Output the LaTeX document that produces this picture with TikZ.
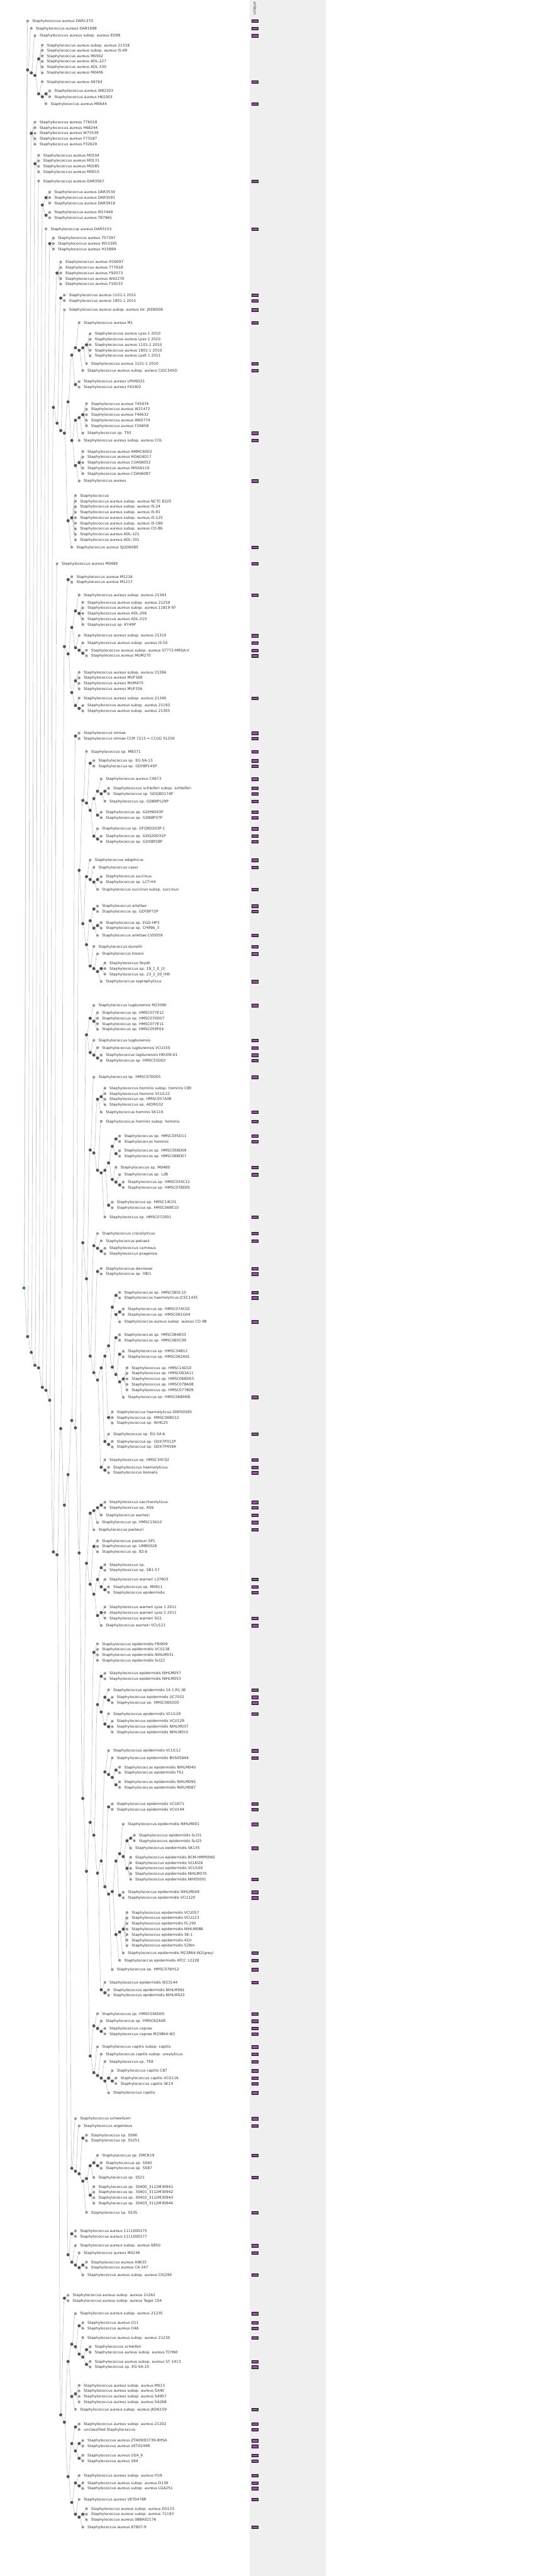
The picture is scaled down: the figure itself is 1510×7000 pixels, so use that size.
\documentclass[tikz,border=0pt]{standalone}
\usepackage{fontspec}
\usepackage{etoolbox}
\setmainfont{DejaVu Sans}

\definecolor{cladegrey}{HTML}{555555}
\definecolor{tipgrey}{HTML}{999999}
\definecolor{branchgrey}{HTML}{C6C6C6}
\definecolor{labelgrey}{HTML}{333333}
\definecolor{uniquepurple}{HTML}{9A4FA4}
\definecolor{rootblue}{HTML}{3A7BAA}
\definecolor{panelgrey}{HTML}{EFEFEF}

\pgfdeclarelayer{background}
\pgfsetlayers{background,main}

\tikzset{
    clade/.style={circle, fill=cladegrey, inner sep=0pt, minimum size=8.5pt},
    tipdot/.style={circle, fill=tipgrey, inner sep=0pt, minimum size=7.5pt},
    branch/.style={draw=branchgrey, line width=1.2pt},
    taxon/.style={anchor=west, inner sep=0pt, text height=7.3pt, text depth=0pt,
                  text=labelgrey, font=\fontsize{10}{12}\selectfont},
    uniquebox/.style={draw=black, fill=uniquepurple, line width=0.6pt,
                      minimum width=16.5pt, minimum height=7.5pt, inner sep=0pt}
}

% branches are collected here and drawn behind the dots at the end
\newcommand{\branchlist}{}
% inner node: name, parent, depth, y
\newcommand{\addclade}[4]{%
    \node[clade] (#1) at ({65+10*#3},#4) {};
    \gappto\branchlist{\draw[branch] (#2.center) .. controls +(5,0) and +(-5,0) .. (#1.center);}}
% leaf: parent, depth, y, label
\newcommand{\addtaxon}[4]{%
    \node[tipdot] (t#3) at ({65+10*#2},#3) {};
    \node[taxon] (t#3_name) at ([xshift=12.5pt]t#3.center) {#4};
    \gappto\branchlist{\draw[branch] (#1.center) .. controls +(5,0) and +(-5,0) .. (t#3.center);}}
% leaf with a mark in the unique column
\newcommand{\addunique}[4]{%
    \addtaxon{#1}{#2}{#3}{#4}%
    \node[uniquebox] (u#3) at (692,#3) {};}

\begin{document}
\begin{tikzpicture}[x=1pt, y=-1pt]
    \useasboundingbox (0,0) rectangle (1510,7000);
    \node[rotate=90, anchor=base west, inner sep=0pt, text=labelgrey,
          font=\fontsize{10}{12}\selectfont] (unique_head) at (695,40) {unique};

    % root
    \node[clade, fill=rootblue] (root) at (65,3500) {};

    % first clades
    \addunique{root}{1}{57}{Staphylococcus aureus DAR1370}
    \addclade{n1_190}{root}{1}{190}
    \addunique{n1_190}{2}{77}{Staphylococcus aureus DAR1698}
    \addclade{n2_198}{n1_190}{2}{198}
    \addunique{n2_198}{3}{97}{Staphylococcus aureus subsp. aureus ED98}
    \addclade{n3_205}{n2_198}{3}{205}
    \addclade{n4_160}{n3_205}{4}{160}
    \addtaxon{n4_160}{5}{123}{Staphylococcus aureus subsp. aureus 21318}
    \addtaxon{n4_160}{5}{137}{Staphylococcus aureus subsp. aureus IS-99}
    \addtaxon{n4_160}{5}{152}{Staphylococcus aureus M0562}
    \addtaxon{n4_160}{5}{167}{Staphylococcus aureus ADL-227}
    \addtaxon{n4_160}{5}{182}{Staphylococcus aureus ADL-330}
    \addtaxon{n4_160}{5}{198}{Staphylococcus aureus M0406}
    \addclade{n4_255}{n3_205}{4}{255}
    \addunique{n4_255}{5}{222}{Staphylococcus aureus A9763}
    \addclade{n5_263}{n4_255}{5}{263}
    \addclade{n6_255}{n5_263}{6}{255}
    \addtaxon{n6_255}{7}{247}{Staphylococcus aureus W82303}
    \addtaxon{n6_255}{7}{263}{Staphylococcus aureus H61003}
    \addunique{n5_263}{6}{282}{Staphylococcus aureus M0644}

    % backbone
    \addclade{n1_3632}{root}{1}{3632}
    \addclade{n2_362}{n1_3632}{2}{362}
    \addtaxon{n2_362}{3}{332}{Staphylococcus aureus T76018}
    \addtaxon{n2_362}{3}{347}{Staphylococcus aureus H68244}
    \addtaxon{n2_362}{3}{362}{Staphylococcus aureus W75539}
    \addtaxon{n2_362}{3}{377}{Staphylococcus aureus F73187}
    \addtaxon{n2_362}{3}{392}{Staphylococcus aureus F32629}
    \addclade{n2_3675}{n1_3632}{2}{3675}
    \addclade{n3_445}{n2_3675}{3}{445}
    \addtaxon{n3_445}{4}{422}{Staphylococcus aureus M0104}
    \addtaxon{n3_445}{4}{437}{Staphylococcus aureus M0131}
    \addtaxon{n3_445}{4}{452}{Staphylococcus aureus M0285}
    \addtaxon{n3_445}{4}{467}{Staphylococcus aureus M0015}
    \addclade{n3_3710}{n2_3675}{3}{3710}
    \addunique{n3_3710}{4}{492}{Staphylococcus aureus DAR3567}
    \addclade{n4_3717}{n3_3710}{4}{3717}
    \addclade{n5_557}{n4_3717}{5}{557}
    \addclade{n6_537}{n5_557}{6}{537}
    \addtaxon{n6_537}{7}{522}{Staphylococcus aureus DAR3534}
    \addtaxon{n6_537}{7}{537}{Staphylococcus aureus DAR3591}
    \addtaxon{n6_537}{7}{552}{Staphylococcus aureus DAR3918}
    \addclade{n6_585}{n5_557}{6}{585}
    \addtaxon{n6_585}{7}{577}{Staphylococcus aureus M27449}
    \addtaxon{n6_585}{7}{592}{Staphylococcus aureus T87965}
    \addclade{n5_3770}{n4_3717}{5}{3770}
    \addunique{n5_3770}{6}{622}{Staphylococcus aureus DAR3153}
    \addclade{n6_3778}{n5_3770}{6}{3778}
    \addclade{n7_662}{n6_3778}{7}{662}
    \addtaxon{n7_662}{8}{647}{Staphylococcus aureus T57397}
    \addtaxon{n7_662}{8}{662}{Staphylococcus aureus W53395}
    \addtaxon{n7_662}{8}{677}{Staphylococcus aureus H15899}
    \addclade{n7_3805}{n6_3778}{7}{3805}

    % aureus clade
    \addclade{n8_1107}{n7_3805}{8}{1107}
    \addclade{n9_742}{n8_1107}{9}{742}
    \addtaxon{n9_742}{10}{712}{Staphylococcus aureus H16097}
    \addtaxon{n9_742}{10}{727}{Staphylococcus aureus T77618}
    \addtaxon{n9_742}{10}{742}{Staphylococcus aureus F92073}
    \addtaxon{n9_742}{10}{757}{Staphylococcus aureus W42270}
    \addtaxon{n9_742}{10}{772}{Staphylococcus aureus F16533}
    \addclade{n9_1150}{n8_1107}{9}{1150}
    \addclade{n10_810}{n9_1150}{10}{810}
    \addunique{n10_810}{11}{802}{Staphylococcus aureus 1101-1 2011}
    \addunique{n10_810}{11}{817}{Staphylococcus aureus 1801-1 2011}
    \addclade{n10_1170}{n9_1150}{10}{1170}
    \addunique{n10_1170}{11}{842}{Staphylococcus aureus subsp. aureus str. JKD6008}
    \addclade{n11_1177}{n10_1170}{11}{1177}
    \addclade{n12_1092}{n11_1177}{12}{1092}
    \addclade{n13_965}{n12_1092}{13}{965}
    \addclade{n14_945}{n13_965}{14}{945}
    \addunique{n14_945}{15}{877}{Staphylococcus aureus M1}
    \addclade{n15_952}{n14_945}{15}{952}
    \addclade{n16_945}{n15_952}{16}{945}
    \addclade{n17_937}{n16_945}{17}{937}
    \addtaxon{n17_937}{18}{907}{Staphylococcus aureus Lyso 1 2010}
    \addtaxon{n17_937}{18}{922}{Staphylococcus aureus Lyso 2 2010}
    \addtaxon{n17_937}{18}{937}{Staphylococcus aureus 1101-2 2010}
    \addtaxon{n17_937}{18}{952}{Staphylococcus aureus 1801-1 2010}
    \addtaxon{n17_937}{18}{967}{Staphylococcus aureus LysK 1 2011}
    \addunique{n16_945}{17}{988}{Staphylococcus aureus 1101-1 2010}
    \addunique{n15_952}{16}{1007}{Staphylococcus aureus subsp. aureus CIGC345D}
    \addclade{n14_1045}{n13_965}{14}{1045}
    \addtaxon{n14_1045}{15}{1037}{Staphylococcus aureus LPIH6021}
    \addtaxon{n14_1045}{15}{1052}{Staphylococcus aureus F41902}
    \addclade{n13_1197}{n12_1092}{13}{1197}
    \addclade{n14_1142}{n13_1197}{14}{1142}
    \addclade{n15_1135}{n14_1142}{15}{1135}
    \addclade{n16_1127}{n15_1135}{16}{1127}
    \addtaxon{n16_1127}{17}{1097}{Staphylococcus aureus T45974}
    \addtaxon{n16_1127}{17}{1112}{Staphylococcus aureus W21472}
    \addtaxon{n16_1127}{17}{1127}{Staphylococcus aureus F46632}
    \addtaxon{n16_1127}{17}{1142}{Staphylococcus aureus W60774}
    \addtaxon{n16_1127}{17}{1157}{Staphylococcus aureus F26858}
    \addunique{n15_1135}{16}{1177}{Staphylococcus sp. T93}
    \addunique{n14_1142}{15}{1197}{Staphylococcus aureus subsp. aureus COL}
    \addclade{n14_1265}{n13_1197}{14}{1265}
    \addclade{n15_1257}{n14_1265}{15}{1257}
    \addtaxon{n15_1257}{16}{1227}{Staphylococcus aureus AMMC6003}
    \addtaxon{n15_1257}{16}{1242}{Staphylococcus aureus HOAG6017}
    \addtaxon{n15_1257}{16}{1257}{Staphylococcus aureus COAS6052}
    \addtaxon{n15_1257}{16}{1272}{Staphylococcus aureus MISS6119}
    \addtaxon{n15_1257}{16}{1287}{Staphylococcus aureus COAS6087}
    \addunique{n14_1265}{15}{1307}{Staphylococcus aureus}
    \addclade{n12_1415}{n11_1177}{12}{1415}
    \addclade{n13_1407}{n12_1415}{13}{1407}
    \addtaxon{n13_1407}{14}{1347}{Staphylococcus}
    \addtaxon{n13_1407}{14}{1362}{Staphylococcus aureus subsp. aureus NCTC 8325}
    \addtaxon{n13_1407}{14}{1377}{Staphylococcus aureus subsp. aureus IS-24}
    \addtaxon{n13_1407}{14}{1392}{Staphylococcus aureus subsp. aureus IS-91}
    \addtaxon{n13_1407}{14}{1407}{Staphylococcus aureus subsp. aureus IS-125}
    \addtaxon{n13_1407}{14}{1422}{Staphylococcus aureus subsp. aureus IS-189}
    \addtaxon{n13_1407}{14}{1437}{Staphylococcus aureus subsp. aureus CO-86}
    \addtaxon{n13_1407}{14}{1452}{Staphylococcus aureus ADL-121}
    \addtaxon{n13_1407}{14}{1467}{Staphylococcus aureus ADL-331}
    \addunique{n12_1415}{13}{1487}{Staphylococcus aureus SJUD6085}

    \addclade{n8_4217}{n7_3805}{8}{4217}
    \addunique{n8_4217}{9}{1532}{Staphylococcus aureus M0489}
    \addclade{n9_4225}{n8_4217}{9}{4225}
    \addclade{n10_3882}{n9_4225}{10}{3882}
    \addclade{n11_1757}{n10_3882}{11}{1757}
    \addclade{n12_1575}{n11_1757}{12}{1575}
    \addtaxon{n12_1575}{13}{1567}{Staphylococcus aureus M1216}
    \addtaxon{n12_1575}{13}{1582}{Staphylococcus aureus M1217}
    \addclade{n12_1777}{n11_1757}{12}{1777}
    \addclade{n13_1705}{n12_1777}{13}{1705}
    \addclade{n14_1660}{n13_1705}{14}{1660}
    \addunique{n14_1660}{15}{1617}{Staphylococcus aureus subsp. aureus 21343}
    \addclade{n15_1667}{n14_1660}{15}{1667}
    \addtaxon{n15_1667}{16}{1637}{Staphylococcus aureus subsp. aureus 21259}
    \addtaxon{n15_1667}{16}{1652}{Staphylococcus aureus subsp. aureus 11819-97}
    \addtaxon{n15_1667}{16}{1667}{Staphylococcus aureus ADL-206}
    \addtaxon{n15_1667}{16}{1682}{Staphylococcus aureus ADL-210}
    \addtaxon{n15_1667}{16}{1697}{Staphylococcus sp. KY49P}
    \addclade{n14_1760}{n13_1705}{14}{1760}
    \addunique{n14_1760}{15}{1727}{Staphylococcus aureus subsp. aureus 21310}
    \addclade{n15_1767}{n14_1760}{15}{1767}
    \addunique{n15_1767}{16}{1747}{Staphylococcus aureus subsp. aureus IS-55}
    \addclade{n16_1775}{n15_1767}{16}{1775}
    \addunique{n16_1775}{17}{1767}{Staphylococcus aureus subsp. aureus ST772-MRSA-V}
    \addunique{n16_1775}{17}{1782}{Staphylococcus aureus MUM270}
    \addclade{n13_1882}{n12_1777}{13}{1882}
    \addclade{n14_1850}{n13_1882}{14}{1850}
    \addtaxon{n14_1850}{15}{1827}{Staphylococcus aureus subsp. aureus 21266}
    \addtaxon{n14_1850}{15}{1842}{Staphylococcus aureus MUF168}
    \addtaxon{n14_1850}{15}{1857}{Staphylococcus aureus MUM475}
    \addtaxon{n14_1850}{15}{1872}{Staphylococcus aureus MUF256}
    \addclade{n14_1917}{n13_1882}{14}{1917}
    \addunique{n14_1917}{15}{1897}{Staphylococcus aureus subsp. aureus 21340}
    \addclade{n15_1925}{n14_1917}{15}{1925}
    \addtaxon{n15_1925}{16}{1917}{Staphylococcus aureus subsp. aureus 21193}
    \addtaxon{n15_1925}{16}{1932}{Staphylococcus aureus subsp. aureus 21305}

    % coagulase-negative clades
    \addclade{n11_4090}{n10_3882}{11}{4090}
    \addclade{n12_4007}{n11_4090}{12}{4007}
    \addclade{n13_3860}{n12_4007}{13}{3860}
    \addclade{n14_2000}{n13_3860}{14}{2000}
    \addunique{n14_2000}{15}{1992}{Staphylococcus simiae}
    \addunique{n14_2000}{15}{2007}{Staphylococcus simiae CCM 7213 = CCUG 51256}
    \addclade{n14_3880}{n13_3860}{14}{3880}
    \addclade{n15_2365}{n14_3880}{15}{2365}
    \addclade{n16_2175}{n15_2365}{16}{2175}
    \addunique{n16_2175}{17}{2042}{Staphylococcus sp. MB371}
    \addclade{n17_2182}{n16_2175}{17}{2182}
    \addclade{n18_2074}{n17_2182}{18}{2074}
    \addunique{n18_2074}{19}{2067}{Staphylococcus sp. EG-SA-13}
    \addunique{n18_2074}{19}{2082}{Staphylococcus sp. GDY8P145P}
    \addclade{n18_2202}{n17_2182}{18}{2202}
    \addclade{n19_2170}{n18_2202}{19}{2170}
    \addclade{n20_2150}{n19_2170}{20}{2150}
    \addunique{n20_2150}{21}{2117}{Staphylococcus aureus C0673}
    \addclade{n21_2157}{n20_2150}{21}{2157}
    \addclade{n22_2150}{n21_2157}{22}{2150}
    \addunique{n22_2150}{23}{2142}{Staphylococcus schleiferi subsp. schleiferi}
    \addunique{n22_2150}{23}{2157}{Staphylococcus sp. GDQ8D174P}
    \addunique{n21_2157}{22}{2177}{Staphylococcus sp. GDB9P129P}
    \addclade{n20_2215}{n19_2170}{20}{2215}
    \addunique{n20_2215}{21}{2207}{Staphylococcus sp. GDH9D43P}
    \addunique{n20_2215}{21}{2222}{Staphylococcus sp. GDB8P37P}
    \addclade{n19_2272}{n18_2202}{19}{2272}
    \addunique{n19_2272}{20}{2252}{Staphylococcus sp. GFQ9D203P-1}
    \addclade{n20_2280}{n19_2272}{20}{2280}
    \addunique{n20_2280}{21}{2272}{Staphylococcus sp. GDQ20D31P}
    \addunique{n20_2280}{21}{2287}{Staphylococcus sp. GDX8P28P}
    \addclade{n16_2510}{n15_2365}{16}{2510}
    \addclade{n17_2382}{n16_2510}{17}{2382}
    \addunique{n17_2382}{18}{2337}{Staphylococcus edaphicus}
    \addclade{n18_2390}{n17_2382}{18}{2390}
    \addunique{n18_2390}{19}{2357}{Staphylococcus casei}
    \addclade{n19_2397}{n18_2390}{19}{2397}
    \addclade{n20_2390}{n19_2397}{20}{2390}
    \addtaxon{n20_2390}{21}{2382}{Staphylococcus succinus}
    \addtaxon{n20_2390}{21}{2397}{Staphylococcus sp. LCT-H4}
    \addunique{n19_2397}{20}{2417}{Staphylococcus succinus subsp. succinus}
    \addclade{n17_2567}{n16_2510}{17}{2567}
    \addclade{n18_2502}{n17_2567}{18}{2502}
    \addclade{n19_2470}{n18_2502}{19}{2470}
    \addunique{n19_2470}{20}{2462}{Staphylococcus arlettae}
    \addunique{n19_2470}{20}{2477}{Staphylococcus sp. GDY8P72P}
    \addclade{n19_2522}{n18_2502}{19}{2522}
    \addclade{n20_2515}{n19_2522}{20}{2515}
    \addtaxon{n20_2515}{21}{2507}{Staphylococcus sp. EGD-HP3}
    \addtaxon{n20_2515}{21}{2522}{Staphylococcus sp. CH99b\_3}
    \addunique{n19_2522}{20}{2542}{Staphylococcus arlettae CVD059}
    \addclade{n18_2625}{n17_2567}{18}{2625}
    \addunique{n18_2625}{19}{2572}{Staphylococcus durrellii}
    \addclade{n19_2632}{n18_2625}{19}{2632}
    \addunique{n19_2632}{20}{2592}{Staphylococcus kloosii}
    \addclade{n20_2640}{n19_2632}{20}{2640}
    \addclade{n21_2632}{n20_2640}{21}{2632}
    \addtaxon{n21_2632}{22}{2617}{Staphylococcus lloydii}
    \addtaxon{n21_2632}{22}{2632}{Staphylococcus sp. 18\_1\_E\_LY}
    \addtaxon{n21_2632}{22}{2647}{Staphylococcus sp. 23\_2\_20\_HW}
    \addunique{n20_2640}{21}{2667}{Staphylococcus saprophyticus}

    \addclade{n15_4220}{n14_3880}{15}{4220}
    \addclade{n16_3377}{n15_4220}{16}{3377}
    \addclade{n17_2812}{n16_3377}{17}{2812}
    \addclade{n18_2767}{n17_2812}{18}{2767}
    \addunique{n18_2767}{19}{2732}{Staphylococcus lugdunensis M23590}
    \addclade{n19_2775}{n18_2767}{19}{2775}
    \addtaxon{n19_2775}{20}{2752}{Staphylococcus sp. HMSC077E12}
    \addtaxon{n19_2775}{20}{2767}{Staphylococcus sp. HMSC070D07}
    \addtaxon{n19_2775}{20}{2782}{Staphylococcus sp. HMSC077E11}
    \addtaxon{n19_2775}{20}{2797}{Staphylococcus sp. HMSC059F04}
    \addclade{n18_2860}{n17_2812}{18}{2860}
    \addunique{n18_2860}{19}{2827}{Staphylococcus lugdunensis}
    \addclade{n19_2867}{n18_2860}{19}{2867}
    \addunique{n19_2867}{20}{2847}{Staphylococcus lugdunensis VCU150}
    \addclade{n20_2875}{n19_2867}{20}{2875}
    \addunique{n20_2875}{21}{2867}{Staphylococcus lugdunensis HKU09-01}
    \addunique{n20_2875}{21}{2882}{Staphylococcus sp. HMSC55D02}
    \addclade{n17_3475}{n16_3377}{17}{3475}
    \addclade{n18_3125}{n17_3475}{18}{3125}
    \addunique{n18_3125}{19}{2927}{Staphylococcus sp. HMSC070D05}
    \addclade{n19_3133}{n18_3125}{19}{3133}
    \addclade{n20_2987}{n19_3133}{20}{2987}
    \addclade{n21_2980}{n20_2987}{21}{2980}
    \addtaxon{n21_2980}{22}{2957}{Staphylococcus hominis subsp. hominis C80}
    \addtaxon{n21_2980}{22}{2972}{Staphylococcus hominis VCU122}
    \addtaxon{n21_2980}{22}{2987}{Staphylococcus sp. HMSC057A08}
    \addtaxon{n21_2980}{22}{3002}{Staphylococcus sp. AtDRG32}
    \addunique{n20_2987}{21}{3022}{Staphylococcus hominis SK119}
    \addclade{n20_3180}{n19_3133}{20}{3180}
    \addunique{n20_3180}{21}{3047}{Staphylococcus hominis subsp. hominis}
    \addclade{n21_3187}{n20_3180}{21}{3187}
    \addclade{n22_3180}{n21_3187}{22}{3180}
    \addclade{n23_3160}{n22_3180}{23}{3160}
    \addclade{n24_3115}{n23_3160}{24}{3115}
    \addclade{n25_3095}{n24_3115}{25}{3095}
    \addunique{n25_3095}{26}{3087}{Staphylococcus sp. HMSC035D11}
    \addunique{n25_3095}{26}{3102}{Staphylococcus hominis}
    \addclade{n25_3135}{n24_3115}{25}{3135}
    \addtaxon{n25_3135}{26}{3127}{Staphylococcus sp. HMSC058D09}
    \addtaxon{n25_3135}{26}{3142}{Staphylococcus sp. HMSC068D07}
    \addclade{n24_3205}{n23_3160}{24}{3205}
    \addunique{n24_3205}{25}{3172}{Staphylococcus sp. M0480}
    \addclade{n25_3212}{n24_3205}{25}{3212}
    \addunique{n25_3212}{26}{3192}{Staphylococcus sp. L2B}
    \addclade{n26_3220}{n25_3212}{26}{3220}
    \addtaxon{n26_3220}{27}{3212}{Staphylococcus sp. HMSC034C12}
    \addtaxon{n26_3220}{27}{3227}{Staphylococcus sp. HMSC078D05}
    \addclade{n23_3275}{n22_3180}{23}{3275}
    \addtaxon{n23_3275}{24}{3267}{Staphylococcus sp. HMSC14C01}
    \addtaxon{n23_3275}{24}{3282}{Staphylococcus sp. HMSC069E10}
    \addunique{n21_3187}{22}{3307}{Staphylococcus sp. HMSC072E01}
    \addclade{n18_3685}{n17_3475}{18}{3685}
    \addclade{n19_3385}{n18_3685}{19}{3385}
    \addunique{n19_3385}{20}{3352}{Staphylococcus croceilyticus}
    \addclade{n20_3392}{n19_3385}{20}{3392}
    \addunique{n20_3392}{21}{3372}{Staphylococcus petrasii}
    \addclade{n21_3400}{n20_3392}{21}{3400}
    \addtaxon{n21_3400}{22}{3392}{Staphylococcus carnosus}
    \addtaxon{n21_3400}{22}{3407}{Staphylococcus pragensis}
    \addclade{n19_3730}{n18_3685}{19}{3730}
    \addclade{n20_3455}{n19_3730}{20}{3455}
    \addunique{n20_3455}{21}{3447}{Staphylococcus devriesei}
    \addunique{n20_3455}{21}{3462}{Staphylococcus sp. H8/1}
    \addclade{n20_3750}{n19_3730}{20}{3750}
    \addclade{n21_3717}{n20_3750}{21}{3717}
    \addclade{n22_3685}{n21_3717}{22}{3685}
    \addclade{n23_3657}{n22_3685}{23}{3657}
    \addclade{n24_3552}{n23_3657}{24}{3552}
    \addclade{n25_3520}{n24_3552}{25}{3520}
    \addunique{n25_3520}{26}{3512}{Staphylococcus sp. HMSC065C10}
    \addunique{n25_3520}{26}{3527}{Staphylococcus haemolyticus JCSC1435}
    \addclade{n25_3572}{n24_3552}{25}{3572}
    \addclade{n26_3565}{n25_3572}{26}{3565}
    \addtaxon{n26_3565}{27}{3557}{Staphylococcus sp. HMSC074C02}
    \addtaxon{n26_3565}{27}{3572}{Staphylococcus sp. HMSC061G04}
    \addunique{n25_3572}{26}{3592}{Staphylococcus aureus subsp. aureus CO-98}
    \addclade{n24_3715}{n23_3657}{24}{3715}
    \addclade{n25_3635}{n24_3715}{25}{3635}
    \addtaxon{n25_3635}{26}{3627}{Staphylococcus sp. HMSC064E03}
    \addtaxon{n25_3635}{26}{3642}{Staphylococcus sp. HMSC065C09}
    \addclade{n25_3735}{n24_3715}{25}{3735}
    \addclade{n26_3680}{n25_3735}{26}{3680}
    \addtaxon{n26_3680}{27}{3672}{Staphylococcus sp. HMSC34B12}
    \addtaxon{n26_3680}{27}{3687}{Staphylococcus sp. HMSC062A01}
    \addclade{n26_3755}{n25_3735}{26}{3755}
    \addclade{n27_3747}{n26_3755}{27}{3747}
    \addtaxon{n27_3747}{28}{3717}{Staphylococcus sp. HMSC14D10}
    \addtaxon{n27_3747}{28}{3732}{Staphylococcus sp. HMSC063A11}
    \addtaxon{n27_3747}{28}{3747}{Staphylococcus sp. HMSC068D03}
    \addtaxon{n27_3747}{28}{3762}{Staphylococcus sp. HMSC078A08}
    \addtaxon{n27_3747}{28}{3777}{Staphylococcus sp. HMSC077B09}
    \addunique{n26_3755}{27}{3797}{Staphylococcus sp. HMSC068H08}
    \addclade{n23_3852}{n22_3685}{23}{3852}
    \addtaxon{n23_3852}{24}{3837}{Staphylococcus haemolyticus DNF00585}
    \addtaxon{n23_3852}{24}{3852}{Staphylococcus sp. HMSC069D12}
    \addtaxon{n23_3852}{24}{3867}{Staphylococcus sp. AtHG25}
    \addclade{n22_3917}{n21_3717}{22}{3917}
    \addunique{n22_3917}{23}{3897}{Staphylococcus sp. EG-SA-6}
    \addclade{n23_3925}{n22_3917}{23}{3925}
    \addtaxon{n23_3925}{24}{3917}{Staphylococcus sp. GDX7P312P}
    \addtaxon{n23_3925}{24}{3932}{Staphylococcus sp. GDX7P459A}
    \addclade{n21_3987}{n20_3750}{21}{3987}
    \addunique{n21_3987}{22}{3967}{Staphylococcus sp. HMSC34C02}
    \addclade{n22_3995}{n21_3987}{22}{3995}
    \addunique{n22_3995}{23}{3987}{Staphylococcus haemolyticus}
    \addunique{n22_3995}{23}{4002}{Staphylococcus borealis}

    \addclade{n16_4887}{n15_4220}{16}{4887}
    \addclade{n17_4248}{n16_4887}{17}{4248}
    \addclade{n18_4112}{n17_4248}{18}{4112}
    \addclade{n19_4105}{n18_4112}{19}{4105}
    \addclade{n20_4097}{n19_4105}{20}{4097}
    \addclade{n21_4090}{n20_4097}{21}{4090}
    \addunique{n21_4090}{22}{4082}{Staphylococcus saccharolyticus}
    \addunique{n21_4090}{22}{4097}{Staphylococcus sp. AS6}
    \addunique{n20_4097}{21}{4117}{Staphylococcus warneri}
    \addunique{n19_4105}{20}{4137}{Staphylococcus sp. HMSC13A10}
    \addunique{n18_4112}{19}{4157}{Staphylococcus pasteuri}
    \addclade{n18_4305}{n17_4248}{18}{4305}
    \addclade{n19_4202}{n18_4305}{19}{4202}
    \addtaxon{n19_4202}{20}{4187}{Staphylococcus pasteuri SP1}
    \addtaxon{n19_4202}{20}{4202}{Staphylococcus sp. UMB0328}
    \addtaxon{n19_4202}{20}{4217}{Staphylococcus sp. B2-b}
    \addclade{n19_4332}{n18_4305}{19}{4332}
    \addclade{n20_4292}{n19_4332}{20}{4292}
    \addclade{n21_4260}{n20_4292}{21}{4260}
    \addtaxon{n21_4260}{22}{4252}{Staphylococcus sp.}
    \addtaxon{n21_4260}{22}{4267}{Staphylococcus sp. SB1-57}
    \addclade{n21_4312}{n20_4292}{21}{4312}
    \addunique{n21_4312}{22}{4292}{Staphylococcus warneri L37603}
    \addclade{n22_4320}{n21_4312}{22}{4320}
    \addunique{n22_4320}{23}{4312}{Staphylococcus sp. M0911}
    \addunique{n22_4320}{23}{4327}{Staphylococcus epidermidis}
    \addclade{n20_4390}{n19_4332}{20}{4390}
    \addclade{n21_4382}{n20_4390}{21}{4382}
    \addtaxon{n21_4382}{22}{4367}{Staphylococcus warneri Lyso 1 2011}
    \addtaxon{n21_4382}{22}{4382}{Staphylococcus warneri Lyso 2 2011}
    \addunique{n21_4382}{22}{4397}{Staphylococcus warneri SG1}
    \addunique{n20_4390}{21}{4417}{Staphylococcus warneri VCU121}

    % epidermidis and capitis
    \addclade{n17_5085}{n16_4887}{17}{5085}
    \addclade{n18_4952}{n17_5085}{18}{4952}
    \addclade{n19_4490}{n18_4952}{19}{4490}
    \addtaxon{n19_4490}{20}{4467}{Staphylococcus epidermidis FRI909}
    \addtaxon{n19_4490}{20}{4482}{Staphylococcus epidermidis VCU118}
    \addtaxon{n19_4490}{20}{4497}{Staphylococcus epidermidis NIHLM031}
    \addtaxon{n19_4490}{20}{4512}{Staphylococcus epidermidis ScI22}
    \addclade{n19_4987}{n18_4952}{19}{4987}
    \addclade{n20_4632}{n19_4987}{20}{4632}
    \addclade{n21_4555}{n20_4632}{21}{4555}
    \addtaxon{n21_4555}{22}{4547}{Staphylococcus epidermidis NIHLM057}
    \addtaxon{n21_4555}{22}{4562}{Staphylococcus epidermidis NIHLM053}
    \addclade{n21_4652}{n20_4632}{21}{4652}
    \addclade{n22_4612}{n21_4652}{22}{4612}
    \addunique{n22_4612}{23}{4592}{Staphylococcus epidermidis 14.1.R1.SE}
    \addclade{n23_4620}{n22_4612}{23}{4620}
    \addunique{n23_4620}{24}{4612}{Staphylococcus epidermidis UC7032}
    \addunique{n23_4620}{24}{4627}{Staphylococcus sp. HMSC065D05}
    \addclade{n22_4685}{n21_4652}{22}{4685}
    \addunique{n22_4685}{23}{4657}{Staphylococcus epidermidis VCU128}
    \addclade{n23_4692}{n22_4685}{23}{4692}
    \addtaxon{n23_4692}{24}{4677}{Staphylococcus epidermidis VCU129}
    \addtaxon{n23_4692}{24}{4692}{Staphylococcus epidermidis NIHLM037}
    \addtaxon{n23_4692}{24}{4707}{Staphylococcus epidermidis NIHLM015}
    \addclade{n20_5090}{n19_4987}{20}{5090}
    \addclade{n21_5057}{n20_5090}{21}{5057}
    \addclade{n22_4815}{n21_5057}{22}{4815}
    \addunique{n22_4815}{23}{4757}{Staphylococcus epidermidis VCU112}
    \addclade{n23_4822}{n22_4815}{23}{4822}
    \addunique{n23_4822}{24}{4777}{Staphylococcus epidermidis BVS058A4}
    \addclade{n24_4830}{n23_4822}{24}{4830}
    \addclade{n25_4810}{n24_4830}{25}{4810}
    \addtaxon{n25_4810}{26}{4802}{Staphylococcus epidermidis NIHLM040}
    \addtaxon{n25_4810}{26}{4817}{Staphylococcus epidermidis FS1}
    \addclade{n25_4850}{n24_4830}{25}{4850}
    \addtaxon{n25_4850}{26}{4842}{Staphylococcus epidermidis NIHLM095}
    \addtaxon{n25_4850}{26}{4857}{Staphylococcus epidermidis NIHLM087}
    \addclade{n22_5127}{n21_5057}{22}{5127}
    \addclade{n23_4910}{n22_5127}{23}{4910}
    \addunique{n23_4910}{24}{4902}{Staphylococcus epidermidis VCU071}
    \addunique{n23_4910}{24}{4917}{Staphylococcus epidermidis VCU144}
    \addclade{n23_5147}{n22_5127}{23}{5147}
    \addclade{n24_5140}{n23_5147}{24}{5140}
    \addclade{n25_5057}{n24_5140}{25}{5057}
    \addclade{n26_5037}{n25_5057}{26}{5037}
    \addunique{n26_5037}{27}{4957}{Staphylococcus epidermidis NIHLM001}
    \addclade{n27_5045}{n26_5037}{27}{5045}
    \addclade{n28_5002}{n27_5045}{28}{5002}
    \addclade{n29_4995}{n28_5002}{29}{4995}
    \addtaxon{n29_4995}{30}{4987}{Staphylococcus epidermidis ScI31}
    \addtaxon{n29_4995}{30}{5002}{Staphylococcus epidermidis ScI25}
    \addunique{n28_5002}{29}{5022}{Staphylococcus epidermidis SK135}
    \addclade{n28_5077}{n27_5045}{28}{5077}
    \addtaxon{n28_5077}{29}{5047}{Staphylococcus epidermidis BCM-HMP0060}
    \addtaxon{n28_5077}{29}{5062}{Staphylococcus epidermidis VCU028}
    \addtaxon{n28_5077}{29}{5077}{Staphylococcus epidermidis VCU109}
    \addtaxon{n28_5077}{29}{5092}{Staphylococcus epidermidis NIHLM070}
    \addunique{n28_5077}{29}{5107}{Staphylococcus epidermidis NIH05001}
    \addclade{n26_5150}{n25_5057}{26}{5150}
    \addunique{n26_5150}{27}{5142}{Staphylococcus epidermidis NIHLM049}
    \addunique{n26_5150}{27}{5157}{Staphylococcus epidermidis VCU120}
    \addclade{n25_5257}{n24_5140}{25}{5257}
    \addclade{n26_5250}{n25_5257}{26}{5250}
    \addclade{n27_5242}{n26_5250}{27}{5242}
    \addtaxon{n27_5242}{28}{5197}{Staphylococcus epidermidis VCU057}
    \addtaxon{n27_5242}{28}{5212}{Staphylococcus epidermidis VCU123}
    \addtaxon{n27_5242}{28}{5227}{Staphylococcus epidermidis IS-250}
    \addtaxon{n27_5242}{28}{5242}{Staphylococcus epidermidis NIHLM088}
    \addtaxon{n27_5242}{28}{5257}{Staphylococcus epidermidis 36-1}
    \addtaxon{n27_5242}{28}{5272}{Staphylococcus epidermidis 41tr}
    \addtaxon{n27_5242}{28}{5287}{Staphylococcus epidermidis 528m}
    \addunique{n26_5250}{27}{5307}{Staphylococcus epidermidis M23864:W2(grey)}
    \addunique{n25_5257}{26}{5327}{Staphylococcus epidermidis ATCC 12228}
    \addunique{n23_5147}{24}{5352}{Staphylococcus sp. HMSC076H12}
    \addclade{n21_5407}{n20_5090}{21}{5407}
    \addunique{n21_5407}{22}{5387}{Staphylococcus epidermidis W23144}
    \addclade{n22_5415}{n21_5407}{22}{5415}
    \addtaxon{n22_5415}{23}{5407}{Staphylococcus epidermidis NIHLM061}
    \addtaxon{n22_5415}{23}{5422}{Staphylococcus epidermidis NIHLM023}
    \addclade{n18_5587}{n17_5085}{18}{5587}
    \addclade{n19_5505}{n18_5587}{19}{5505}
    \addunique{n19_5505}{20}{5472}{Staphylococcus sp. HMSC036D05}
    \addclade{n20_5512}{n19_5505}{20}{5512}
    \addunique{n20_5512}{21}{5492}{Staphylococcus sp. HMSC62A08}
    \addclade{n21_5520}{n20_5512}{21}{5520}
    \addunique{n21_5520}{22}{5512}{Staphylococcus caprae}
    \addunique{n21_5520}{22}{5527}{Staphylococcus caprae M23864:W1}
    \addclade{n19_5632}{n18_5587}{19}{5632}
    \addunique{n19_5632}{20}{5562}{Staphylococcus capitis subsp. capitis}
    \addclade{n20_5640}{n19_5632}{20}{5640}
    \addunique{n20_5640}{21}{5582}{Staphylococcus capitis subsp. urealyticus}
    \addclade{n21_5647}{n20_5640}{21}{5647}
    \addunique{n21_5647}{22}{5602}{Staphylococcus sp. TE8}
    \addclade{n22_5655}{n21_5647}{22}{5655}
    \addclade{n23_5647}{n22_5655}{23}{5647}
    \addunique{n23_5647}{24}{5627}{Staphylococcus capitis C87}
    \addclade{n24_5655}{n23_5647}{24}{5655}
    \addunique{n24_5655}{25}{5647}{Staphylococcus capitis VCU116}
    \addunique{n24_5655}{25}{5662}{Staphylococcus capitis SK14}
    \addunique{n22_5655}{23}{5687}{Staphylococcus capitis}

    % argenteus and schweitzeri
    \addclade{n13_5892}{n12_4007}{13}{5892}
    \addunique{n13_5892}{14}{5757}{Staphylococcus schweitzeri}
    \addclade{n14_5900}{n13_5892}{14}{5900}
    \addunique{n14_5900}{15}{5777}{Staphylococcus argenteus}
    \addclade{n15_5907}{n14_5900}{15}{5907}
    \addclade{n16_5810}{n15_5907}{16}{5810}
    \addtaxon{n16_5810}{17}{5802}{Staphylococcus sp. SS90}
    \addtaxon{n16_5810}{17}{5817}{Staphylococcus sp. SS251}
    \addclade{n16_5927}{n15_5907}{16}{5927}
    \addclade{n17_5920}{n16_5927}{17}{5920}
    \addclade{n18_5885}{n17_5920}{18}{5885}
    \addclade{n19_5877}{n18_5885}{19}{5877}
    \addunique{n19_5877}{20}{5857}{Staphylococcus sp. EMCR19}
    \addclade{n20_5885}{n19_5877}{20}{5885}
    \addtaxon{n20_5885}{21}{5877}{Staphylococcus sp. SS60}
    \addtaxon{n20_5885}{21}{5892}{Staphylococcus sp. SS87}
    \addunique{n18_5885}{19}{5917}{Staphylococcus sp. SS21}
    \addclade{n18_5965}{n17_5920}{18}{5965}
    \addtaxon{n18_5965}{19}{5942}{Staphylococcus sp. 30400\_3112M30941}
    \addtaxon{n18_5965}{19}{5957}{Staphylococcus sp. 30401\_3112M30942}
    \addtaxon{n18_5965}{19}{5972}{Staphylococcus sp. 30402\_3112M30943}
    \addtaxon{n18_5965}{19}{5987}{Staphylococcus sp. 30403\_3112M30944}
    \addunique{n16_5927}{17}{6012}{Staphylococcus sp. SS35}

    % lower aureus clades
    \addclade{n12_6127}{n11_4090}{12}{6127}
    \addclade{n13_6070}{n12_6127}{13}{6070}
    \addtaxon{n13_6070}{14}{6062}{Staphylococcus aureus 1111000175}
    \addtaxon{n13_6070}{14}{6077}{Staphylococcus aureus 1111000177}
    \addclade{n13_6147}{n12_6127}{13}{6147}
    \addunique{n13_6147}{14}{6102}{Staphylococcus aureus subsp. aureus 6850}
    \addclade{n14_6155}{n13_6147}{14}{6155}
    \addunique{n14_6155}{15}{6122}{Staphylococcus aureus M0236}
    \addclade{n15_6162}{n14_6155}{15}{6162}
    \addclade{n16_6155}{n15_6162}{16}{6155}
    \addtaxon{n16_6155}{17}{6147}{Staphylococcus aureus A9635}
    \addtaxon{n16_6155}{17}{6162}{Staphylococcus aureus CA-347}
    \addunique{n15_6162}{16}{6182}{Staphylococcus aureus subsp. aureus CIG290}

    \addclade{n10_6562}{n9_4225}{10}{6562}
    \addclade{n11_6245}{n10_6562}{11}{6245}
    \addtaxon{n11_6245}{12}{6237}{Staphylococcus aureus subsp. aureus 21262}
    \addtaxon{n11_6245}{12}{6252}{Staphylococcus aureus subsp. aureus Tager 104}
    \addclade{n11_6582}{n10_6562}{11}{6582}
    \addclade{n12_6417}{n11_6582}{12}{6417}
    \addclade{n13_6370}{n12_6417}{13}{6370}
    \addunique{n13_6370}{14}{6287}{Staphylococcus aureus subsp. aureus 21235}
    \addclade{n14_6377}{n13_6370}{14}{6377}
    \addclade{n15_6320}{n14_6377}{15}{6320}
    \addunique{n15_6320}{16}{6312}{Staphylococcus aureus O11}
    \addunique{n15_6320}{16}{6327}{Staphylococcus aureus O46}
    \addclade{n15_6397}{n14_6377}{15}{6397}
    \addunique{n15_6397}{16}{6352}{Staphylococcus aureus subsp. aureus 21230}
    \addclade{n16_6405}{n15_6397}{16}{6405}
    \addclade{n17_6385}{n16_6405}{17}{6385}
    \addtaxon{n17_6385}{18}{6377}{Staphylococcus schleiferi}
    \addtaxon{n17_6385}{18}{6392}{Staphylococcus aureus subsp. aureus TCH60}
    \addclade{n17_6425}{n16_6405}{17}{6425}
    \addunique{n17_6425}{18}{6417}{Staphylococcus aureus subsp. aureus ST 1413}
    \addunique{n17_6425}{18}{6432}{Staphylococcus sp. EG-SA-10}
    \addclade{n13_6512}{n12_6417}{13}{6512}
    \addclade{n14_6505}{n13_6512}{14}{6505}
    \addtaxon{n14_6505}{15}{6482}{Staphylococcus aureus subsp. aureus M013}
    \addtaxon{n14_6505}{15}{6497}{Staphylococcus aureus subsp. aureus SA40}
    \addtaxon{n14_6505}{15}{6512}{Staphylococcus aureus subsp. aureus SA957}
    \addtaxon{n14_6505}{15}{6527}{Staphylococcus aureus subsp. aureus SA268}
    \addunique{n13_6512}{14}{6547}{Staphylococcus aureus subsp. aureus JKD6159}
    \addclade{n12_6730}{n11_6582}{12}{6730}
    \addclade{n13_6640}{n12_6730}{13}{6640}
    \addclade{n14_6595}{n13_6640}{14}{6595}
    \addunique{n14_6595}{15}{6587}{Staphylococcus aureus subsp. aureus 21202}
    \addunique{n14_6595}{15}{6602}{unclassified Staphylococcus}
    \addclade{n14_6660}{n13_6640}{14}{6660}
    \addclade{n15_6640}{n14_6660}{15}{6640}
    \addunique{n15_6640}{16}{6632}{Staphylococcus aureus ZTA09/03739-9HSA}
    \addunique{n15_6640}{16}{6647}{Staphylococcus aureus VET0249R}
    \addclade{n15_6680}{n14_6660}{15}{6680}
    \addunique{n15_6680}{16}{6672}{Staphylococcus aureus USA\_9}
    \addunique{n15_6680}{16}{6687}{Staphylococcus aureus S94}
    \addclade{n13_6800}{n12_6730}{13}{6800}
    \addclade{n14_6747}{n13_6800}{14}{6747}
    \addunique{n14_6747}{15}{6727}{Staphylococcus aureus subsp. aureus H19}
    \addclade{n15_6755}{n14_6747}{15}{6755}
    \addunique{n15_6755}{16}{6747}{Staphylococcus aureus subsp. aureus D139}
    \addunique{n15_6755}{16}{6762}{Staphylococcus aureus subsp. aureus LGA251}
    \addclade{n14_6832}{n13_6800}{14}{6832}
    \addunique{n14_6832}{15}{6792}{Staphylococcus aureus VET0478R}
    \addclade{n15_6840}{n14_6832}{15}{6840}
    \addclade{n16_6832}{n15_6840}{16}{6832}
    \addtaxon{n16_6832}{17}{6817}{Staphylococcus aureus subsp. aureus ED133}
    \addtaxon{n16_6832}{17}{6832}{Staphylococcus aureus subsp. aureus 71193}
    \addtaxon{n16_6832}{17}{6847}{Staphylococcus aureus 08BA02176}
    \addunique{n15_6840}{16}{6867}{Staphylococcus aureus 87807-9}

    % panel and branches behind everything
    \begin{pgfonlayer}{background}
        \fill[panelgrey] (679,0) rectangle (885,7000);
        \branchlist
    \end{pgfonlayer}

\end{tikzpicture}
\end{document}
